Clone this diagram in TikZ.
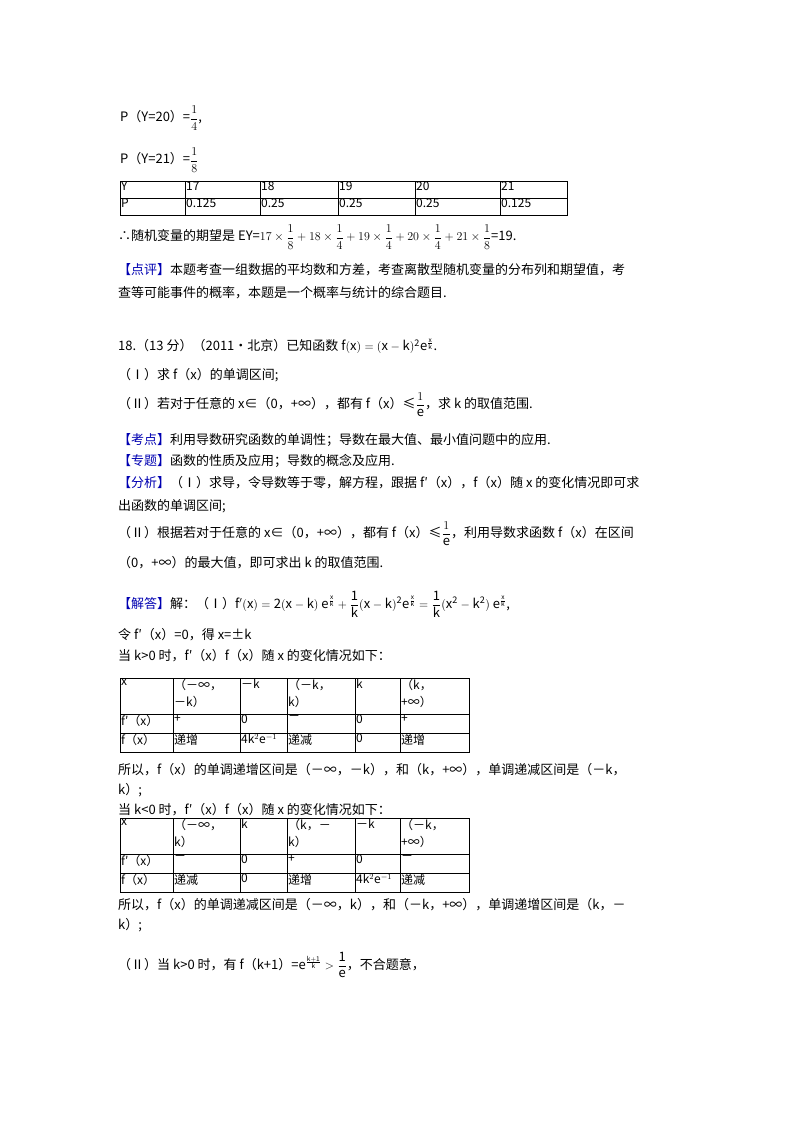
\documentclass[tikz,border=0pt]{standalone}
\usepackage{fontspec}
\setmainfont{Noto Sans CJK SC}
\usepackage{amsmath}
\begin{document}
\begin{tikzpicture}[x=1pt,y=-1pt,
  t/.style={anchor=west,inner sep=0pt,font=\fontsize{13}{16}\selectfont},
  c/.style={anchor=north west,inner sep=0pt,align=left,font=\fontsize{12}{17}\selectfont},
  b/.style={text=blue!70!black}]
\fill[white] (0,0) rectangle (800,1132);
\node[t] (p1) at (120,118) {P（Y=20）=$\dfrac{1}{4}$,};
\node[t] (p2) at (120,160) {P（Y=21）=$\dfrac{1}{8}$};
% table 1
\draw (120,181) rectangle (567,215); \draw (120,198)--(567,198);
\foreach \x in {185,260,338,415,500} \draw (\x,181)--(\x,215);
\foreach \x/\a/\b in {120/Y/P,185/17/0.125,260/18/0.25,338/19/0.25,415/20/0.25,500/21/0.125}{
 \node[c] at (\x+1,182) {\a}; \node[c] at (\x+1,199) {\b};}
\node[t] (ey) at (118,237) {∴随机变量的期望是 EY=$17\times\dfrac18+18\times\dfrac14+19\times\dfrac14+20\times\dfrac14+21\times\dfrac18$=19.};
\node[t] (dp) at (118,270) {{\color{blue!70!black}【点评】}本题考查一组数据的平均数和方差，考查离散型随机变量的分布列和期望值，考};
\node[t] (dp2) at (118,293) {查等可能事件的概率，本题是一个概率与统计的综合题目.};
\node[t] (q18) at (118,346) {18.（13 分）（2011•北京）已知函数 $\mathrm{f(x)=(x-k)^2e^{\frac{x}{k}}}$.};
\node[t] (q1) at (118,375) {（Ⅰ）求 f（x）的单调区间;};
\node[t] (q2) at (118,405) {（Ⅱ）若对于任意的 x∈（0，+∞），都有 f（x）≤$\dfrac{1}{\mathrm e}$，求 k 的取值范围.};
\node[t] (kd) at (118,440) {{\color{blue!70!black}【考点】}利用导数研究函数的单调性；导数在最大值、最小值问题中的应用.};
\node[t] (zt) at (118,461) {{\color{blue!70!black}【专题】}函数的性质及应用；导数的概念及应用.};
\node[t] (fx) at (118,483) {{\color{blue!70!black}【分析】}（Ⅰ）求导，令导数等于零，解方程，跟据 f′（x），f（x）随 x 的变化情况即可求};
\node[t] (fx2) at (118,506) {出函数的单调区间;};
\node[t] (fx3) at (118,534) {（Ⅱ）根据若对于任意的 x∈（0，+∞），都有 f（x）≤$\dfrac{1}{\mathrm e}$，利用导数求函数 f（x）在区间};
\node[t] (fx4) at (118,563) {（0，+∞）的最大值，即可求出 k 的取值范围.};
\node[t] (jd) at (118,604) {{\color{blue!70!black}【解答】}解：（Ⅰ）$\mathrm{f'(x)=2(x-k)\ e^{\frac{x}{k}}+\dfrac{1}{k}(x-k)^2e^{\frac{x}{k}}=\dfrac{1}{k}(x^2-k^2)\ e^{\frac{x}{k}}}$,};
\node[t] (l1) at (118,635) {令 f′（x）=0，得 x=±k};
\node[t] (l2) at (118,656) {当 k>0 时，f′（x）f（x）随 x 的变化情况如下：};
% tables
\def\tab#1#2#3#4#5#6#7#8#9{%
 \draw (120,#1) rectangle (469,#1+74); \draw (120,#1+36)--(469,#1+36); \draw (120,#1+55)--(469,#1+55);
 \foreach \x in {173,240,287,355,400} \draw (\x,#1)--(\x,#1+74);
 \node[c] at (121,#1+1) {x};
 \node[c] at (174,#1+1) {#2}; \node[c] at (241,#1+1) {#3}; \node[c] at (288,#1+1) {#4};
 \node[c] at (356,#1+1) {#5}; \node[c] at (401,#1+1) {#6};
 \node[c] at (121,#1+37) {f′（x）}; \node[c] at (121,#1+56) {f（x）};
 \node[c] at (174,#1+37) {#7}; \node[c] at (241,#1+37) {0}; \node[c] at (288,#1+37) {#8};
 \node[c] at (356,#1+37) {0}; \node[c] at (401,#1+37) {#9};}
\tab{678}{（－∞，\\－k）}{－k}{（－k，\\k）}{k}{（k，\\+∞）}{+}{－}{+}
\node[c] at (174,734) {递增}; \node[c] at (241,734) {4k$^2$e$^{-1}$}; \node[c] at (288,734) {递减};
\node[c] at (356,734) {0}; \node[c] at (401,734) {递增};
\node[t] (s1) at (118,770) {所以，f（x）的单调递增区间是（－∞，－k），和（k，+∞），单调递减区间是（－k，};
\node[t] (s2) at (118,790) {k）;};
\node[t] (l3) at (118,810) {当 k<0 时，f′（x）f（x）随 x 的变化情况如下：};
\tab{818}{（－∞，\\k）}{k}{（k，－\\k）}{－k}{（－k，\\+∞）}{－}{+}{－}
\node[c] at (174,874) {递减}; \node[c] at (241,874) {0}; \node[c] at (288,874) {递增};
\node[c] at (356,874) {4k$^2$e$^{-1}$}; \node[c] at (401,874) {递减};
\node[t] (s3) at (118,905) {所以，f（x）的单调递减区间是（－∞，k），和（－k，+∞），单调递增区间是（k，－};
\node[t] (s4) at (118,925) {k）;};
\node[t] (l4) at (118,965) {（Ⅱ）当 k>0 时，有 f（k+1）=$\mathrm{e^{\frac{k+1}{k}}>\dfrac{1}{e}}$，不合题意，};
\end{tikzpicture}
\end{document}
